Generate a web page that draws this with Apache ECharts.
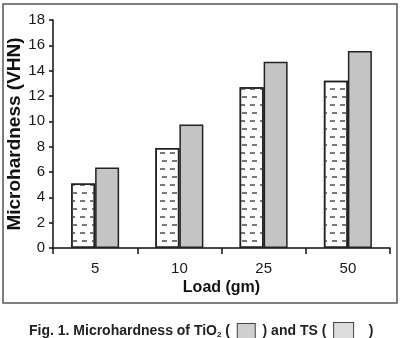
<!DOCTYPE html>
<html><head><meta charset="utf-8">
<script src="https://cdn.jsdelivr.net/npm/echarts@6/dist/echarts.min.js"></script>
<style>html,body{margin:0;padding:0;background:#fff}#c{width:400px;height:338px}</style>
</head><body><div id="c"></div>
<script>
var categories = ['5', '10', '25', '50'];
var tio2Values = [5.1, 7.9, 12.7, 13.2];
var tsValues = [6.35, 9.75, 14.7, 15.55];
var yTicks = [0, 2, 4, 6, 8, 10, 12, 14, 16, 18];

var chart = echarts.init(document.getElementById('c'), null, {renderer: 'canvas'});
var font = '"Liberation Sans", Arial, sans-serif';
chart.setOption({
  animation: false,
  grid: {left: 53, right: 10, top: 20, bottom: 90, outerBoundsMode: 'none', containLabel: false},
  xAxis: {
    type: 'category', data: categories,
    name: 'Load (gm)', nameLocation: 'middle', nameGap: 32, nameMoveOverlap: false,
    nameTextStyle: {fontFamily: font, fontWeight: 'bold', fontSize: 16, color: '#111'},
    axisLine: {lineStyle: {color: '#111', width: 1.5}},
    axisTick: {show: true, length: 6, lineStyle: {color: '#111', width: 1.5}},
    axisLabel: {fontFamily: font, fontSize: 15, color: '#1a1a1a', margin: 13}
  },
  yAxis: {
    type: 'value', min: yTicks[0], max: yTicks[yTicks.length - 1], interval: 2,
    name: 'Microhardness (VHN)', nameLocation: 'middle', nameGap: 29, nameMoveOverlap: false,
    nameTextStyle: {fontFamily: font, fontWeight: 'bold', fontSize: 19, color: '#111'},
    axisLine: {show: true, lineStyle: {color: '#111', width: 1.5}},
    axisTick: {show: true, length: 4, lineStyle: {color: '#111', width: 1.5}},
    axisLabel: {fontFamily: font, fontSize: 15, color: '#1a1a1a', margin: 8},
    splitLine: {show: false}
  },
  series: [
    {type: 'bar', name: 'TiO2', data: tio2Values, barWidth: 24, barGap: '0%',
     itemStyle: {color: '#fff', borderColor: '#222', borderWidth: 1.5,
       decal: {symbol: 'rect', symbolSize: 1, color: '#777',
         dashArrayX: [[5, 5], [0, 2, 5, 3]], dashArrayY: [1.2, 5.3], rotation: 0}}},
    {type: 'bar', name: 'TS', data: tsValues, barWidth: 24,
     itemStyle: {color: '#c4c4c4', borderColor: '#222', borderWidth: 1.5}}
  ],
  graphic: [
    {type: 'rect', shape: {x: 3, y: 4, width: 394, height: 299}, style: {fill: 'none', stroke: '#555', lineWidth: 1.5}, silent: true},
    {type: 'text', left: 29, top: 322, style: {
      text: '{t|Fig. 1. Microhardness of TiO}{s|2}{t| (  }{b1| }{t|  ) and TS (  }{b2| }{t|    )}',
      rich: {
        t: {fontFamily: font, fontWeight: 'bold', fontSize: 14, fill: '#222'},
        s: {fontFamily: font, fontWeight: 'bold', fontSize: 8, fill: '#222', padding: [8, 0, 0, 0]},
        b1: {width: 17, height: 14, backgroundColor: '#cfcfcf', borderColor: '#444', borderWidth: 1},
        b2: {width: 19, height: 16, backgroundColor: '#dcdcdc', borderColor: '#444', borderWidth: 1}
      }
    }}
  ]
});
</script></body></html>
